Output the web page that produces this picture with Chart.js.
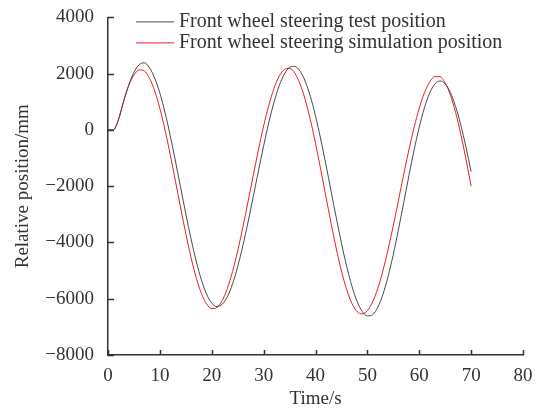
<!DOCTYPE html>
<html>
<head>
<meta charset="utf-8">
<script src="https://cdn.jsdelivr.net/npm/chart.js@4.4.0/dist/chart.umd.min.js"></script>
<style>
  body { margin: 0; background: #fff; }
  #wrap { width: 541px; height: 412px; }
</style>
</head>
<body>
<div id="wrap"><canvas id="myChart" width="541" height="412"></canvas></div>
<script>
'use strict';

// Data (time in s, position in mm)
let timeSec = [
  0, 1, 2, 3, 4, 5, 6, 7, 8, 9,
  10, 11, 12, 13, 14, 15, 16, 17, 18, 19,
  20, 21, 22, 23, 24, 25, 26, 27, 28, 29,
  30, 31, 32, 33, 34, 35, 36, 37, 38, 39,
  40, 41, 42, 43, 44, 45, 46, 47, 48, 49,
  50, 51, 52, 53, 54, 55, 56, 57, 58, 59,
  60, 61, 62, 63, 64, 65, 66, 67, 68, 69,
  70
];

let testPosition = [
  0, 0, 350, 1000, 1600, 2050, 2320, 2385, 2207, 1843,
  1306, 609, -205, -1106, -2045, -2980, -3865, -4660, -5327, -5835,
  -6156, -6280, -6199, -5930, -5476, -4861, -4117, -3275, -2368, -1454,
  -564, 265, 983, 1569, 1988, 2223, 2261, 2097, 1737, 1194,
  501, -326, -1228, -2175, -3122, -4024, -4842, -5544, -6087, -6447,
  -6611, -6566, -6307, -5843, -5203, -4421, -3531, -2586, -1629, -718,
  97, 791, 1305, 1631, 1740, 1636, 1329, 835, 180, -609,
  -1485
];

let simPosition = [
  0, 0, 370, 1020, 1580, 1950, 2130, 2094, 1839, 1388,
  759, -7, -887, -1819, -2771, -3694, -4528, -5251, -5808, -6182,
  -6352, -6309, -6069, -5637, -5038, -4301, -3454, -2546, -1614, -706,
  141, 878, 1477, 1909, 2149, 2191, 2021, 1645, 1086, 369,
  -474, -1405, -2362, -3315, -4215, -5015, -5670, -6160, -6453, -6540,
  -6422, -6117, -5635, -5000, -4239, -3393, -2496, -1582, -711, 84,
  774, 1324, 1700, 1895, 1893, 1673, 1245, 628, -148, -1030,
  -2000
];

let seriesNames = [
  'Front wheel steering test position',
  'Front wheel steering simulation position'
];
let seriesColors = ['#4a4a4a', '#ee1c25'];

let xTicks = [0, 10, 20, 30, 40, 50, 60, 70, 80];
let yTicks = [-8000, -6000, -4000, -2000, 0, 2000, 4000];

const FONT = '"Liberation Serif", "Times New Roman", serif';
const INK = '#333333';

function toPoints(values) {
  let pts = [];
  for (let i = 0; i < values.length; i++) {
    pts.push({ x: timeSec[i], y: values[i] });
  }
  return pts;
}

// small ticks pointing into the plot + legend drawn inside the plot
let innerTicks = {
  id: 'innerTicks',
  afterDraw(chart) {
    let ctx = chart.ctx;
    let area = chart.chartArea;
    let xs = chart.scales.x;
    let ys = chart.scales.y;
    ctx.save();
    ctx.strokeStyle = INK;
    ctx.lineWidth = 1.5;
    ctx.beginPath();
    xTicks.forEach(v => {
      let px = Math.round(xs.getPixelForValue(v)) + 0.5;
      ctx.moveTo(px, area.bottom);
      ctx.lineTo(px, area.bottom - 5);
    });
    yTicks.forEach(v => {
      let py = Math.round(ys.getPixelForValue(v)) + 0.5;
      ctx.moveTo(area.left, py);
      ctx.lineTo(area.left + 6, py);
    });
    ctx.stroke();

    // legend
    ctx.font = '20px ' + FONT;
    ctx.textBaseline = 'middle';
    ctx.textAlign = 'left';
    chart.data.datasets.forEach((ds, i) => {
      let y = area.top + 4 + i * 21;
      ctx.strokeStyle = ds.borderColor;
      ctx.lineWidth = 1;
      ctx.beginPath();
      ctx.moveTo(area.left + 28, y + 0.5);
      ctx.lineTo(area.left + 66, y + 0.5);
      ctx.stroke();
      ctx.fillStyle = INK;
      ctx.fillText(ds.label, area.left + 71, y);
    });
    ctx.restore();
  }
};

let ctx = document.getElementById('myChart').getContext('2d');

new Chart(ctx, { //eslint-disable-line
  type: 'line',
  data: {
    datasets: [
      {
        label: seriesNames[0],
        data: toPoints(testPosition),
        borderColor: seriesColors[0],
        borderWidth: 1,
        pointRadius: 0,
        cubicInterpolationMode: 'monotone'
      },
      {
        label: seriesNames[1],
        data: toPoints(simPosition),
        borderColor: seriesColors[1],
        borderWidth: 1,
        pointRadius: 0,
        cubicInterpolationMode: 'monotone'
      }
    ]
  },
  options: {
    responsive: false,
    animation: false,
    devicePixelRatio: 1,
    layout: { padding: { top: 17, right: 18, left: 0, bottom: 0 } },
    plugins: {
      legend: { display: false },
      tooltip: { enabled: false }
    },
    scales: {
      x: {
        type: 'linear',
        min: 0,
        max: 80,
        afterBuildTicks: (scale) => { scale.ticks = xTicks.map(v => ({ value: v })); },
        grid: { display: false },
        border: { display: true, color: INK, width: 1.5 },
        ticks: { color: INK, padding: 2, maxRotation: 0, font: { family: FONT, size: 19 } },
        title: {
          display: true,
          text: 'Time/s',
          color: INK,
          font: { family: FONT, size: 19 },
          padding: { top: 8, bottom: 2 }
        },
        afterFit: (scale) => { scale.height = 57; }
      },
      y: {
        type: 'linear',
        min: -8000,
        max: 4000,
        afterBuildTicks: (scale) => { scale.ticks = yTicks.map(v => ({ value: v })); },
        grid: { display: false },
        border: { display: true, color: INK, width: 1.5 },
        ticks: {
          color: INK,
          padding: 6,
          font: { family: FONT, size: 19 },
          callback: (v) => String(v).replace('-', '\u2212')
        },
        title: {
          display: true,
          text: 'Relative position/mm',
          color: INK,
          font: { family: FONT, size: 19 },
          padding: { top: 12, bottom: 4 }
        },
        afterFit: (scale) => { scale.width = 108; }
      }
    }
  },
  plugins: [innerTicks]
});
</script>
</body>
</html>
